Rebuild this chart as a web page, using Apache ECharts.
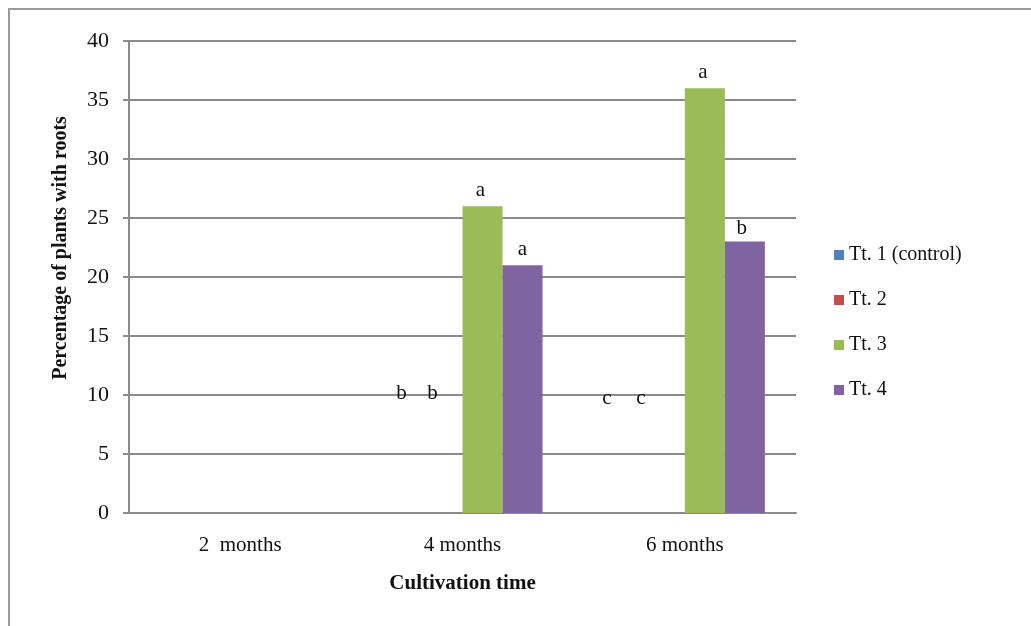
<!DOCTYPE html>
<html>
<head>
<meta charset="utf-8">
<script src="https://cdn.jsdelivr.net/npm/echarts@6/dist/echarts.min.js"></script>
<style>
html,body{margin:0;padding:0;background:#fff;}
#frame{position:absolute;left:0;top:0;width:1031px;height:626px;overflow:hidden;}
#border{position:absolute;left:8px;top:8px;width:1040px;height:640px;border-left:2px solid #9a9a9a;border-top:2px solid #9a9a9a;}
#chart{position:absolute;left:0;top:0;width:1031px;height:626px;}
</style>
</head>
<body>
<div id="frame"><div id="border"></div><div id="chart"></div></div>
<script>
const categories = ['2  months', '4 months', '6 months'];
const seriesNames = ['Tt. 1 (control)', 'Tt. 2', 'Tt. 3', 'Tt. 4'];
const tt1 = [0, 0, 0];
const tt2 = [0, 0, 0];
const tt3 = [0, 26, 36];
const tt4 = [0, 21, 23];
const tt1Letters = ['', 'b', 'c'];
const tt2Letters = ['', 'b', 'c'];
const tt3Letters = ['', 'a', 'a'];
const tt4Letters = ['', 'a', 'b'];
const yTicks = [0, 5, 10, 15, 20, 25, 30, 35, 40];

const colors = ['#4F81BD', '#C0504D', '#9BBB59', '#8064A2'];
const serif = 'Liberation Serif';

// label offsets (style only) for letters drawn above the zero-height bars
const tt1Offsets = [[0, 0], [-1, -104], [-18, -99]];
const tt2Offsets = [[0, 0], [-10, -104], [-24, -99]];

function withLabels(values, letters, offsets) {
  return values.map((v, i) => ({
    value: v,
    label: {
      show: letters[i] !== '',
      position: 'top',
      offset: offsets ? offsets[i] : [0, 0],
      color: '#111',
      fontFamily: serif,
      fontSize: 21,
      formatter: letters[i]
    }
  }));
}

const chart = echarts.init(document.getElementById('chart'));
chart.setOption({
  animation: false,
  color: colors,
  textStyle: { fontFamily: serif },
  grid: { left: 129, right: 235, top: 41, bottom: 113, containLabel: false },
  legend: {
    orient: 'vertical',
    left: 829, top: 240,
    itemWidth: 10, itemHeight: 10,
    itemGap: 25,
    icon: 'rect',
    textStyle: { fontFamily: serif, fontSize: 20, color: '#111' },
    data: seriesNames
  },
  xAxis: {
    type: 'category',
    data: categories,
    name: 'Cultivation time',
    nameLocation: 'middle',
    nameGap: 60,
    nameTextStyle: { fontFamily: serif, fontWeight: 'bold', fontSize: 21, color: '#111' },
    axisLine: { lineStyle: { color: '#8a8a8a', width: 2 } },
    axisTick: { show: false },
    axisLabel: { fontFamily: serif, fontSize: 21, color: '#111', margin: 22 }
  },
  yAxis: {
    type: 'value',
    min: yTicks[0], max: yTicks[yTicks.length - 1], interval: 5,
    name: 'Percentage of plants with roots',
    nameLocation: 'middle',
    nameGap: 58,
    nameTextStyle: { fontFamily: serif, fontWeight: 'bold', fontSize: 20, color: '#111', padding: [0, 0, 0, 58] },
    axisLine: { show: true, lineStyle: { color: '#8a8a8a', width: 2 } },
    axisTick: { show: true, length: 6, lineStyle: { color: '#8a8a8a', width: 2 } },
    splitLine: { lineStyle: { color: '#8a8a8a', width: 2 } },
    axisLabel: { fontFamily: serif, fontSize: 22, color: '#111', margin: 20 }
  },
  series: [
    { name: seriesNames[0], type: 'bar', data: withLabels(tt1, tt1Letters, tt1Offsets), barGap: '0%', barCategoryGap: '28%' },
    { name: seriesNames[1], type: 'bar', data: withLabels(tt2, tt2Letters, tt2Offsets), barGap: '0%', barCategoryGap: '28%' },
    { name: seriesNames[2], type: 'bar', data: withLabels(tt3, tt3Letters, [[0, 0], [-2, 0], [-2, 0]]), barGap: '0%', barCategoryGap: '28%' },
    { name: seriesNames[3], type: 'bar', data: withLabels(tt4, tt4Letters, [[0, 0], [0, 0], [-3, 2]]), barGap: '0%', barCategoryGap: '28%' }
  ]
});
</script>
</body>
</html>
